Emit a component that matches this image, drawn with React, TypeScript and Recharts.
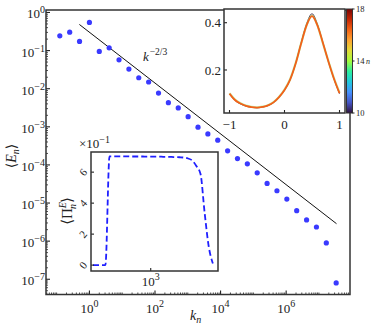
import React from 'react';
import { ScatterChart, Scatter, LineChart, Line, XAxis, YAxis, ReferenceDot } from 'recharts';

const FONT = '"Liberation Serif", "DejaVu Serif", serif';
const INK = '#222';
const BLUE = '#3a3aff';

// shell wavenumbers k_n = 2^n, n = -3..25
const shellK = [
  0.125, 0.25, 0.5, 1, 2, 4, 8, 16, 32, 64, 128, 256, 512, 1024, 2048, 4096, 8192,
  16384, 32768, 65536, 131072, 262144, 524288, 1048576, 2097152, 4194304, 8388608,
  16777216, 33554432,
];
const shellEnergy = [
  0.244, 0.305, 0.174, 0.547, 0.0953, 0.118, 0.0574, 0.0328, 0.0194, 0.015, 0.0077,
  0.0043, 0.00313, 0.00185, 0.00098, 0.00065, 0.000446, 0.000234, 0.000147, 0.000107,
  6.2e-5, 3.26e-5, 2.1e-5, 1.27e-5, 6.3e-6, 3.6e-6, 2.35e-6, 9.0e-7, 8.0e-8,
];

// k^(-2/3) guide
const slopeK = [0.494, 3.43e7];
const slopeE = [0.485, 2.87e-6];

// energy flux inset (in units of 1e-1)
const fluxK = [0.0625, ...shellK];
const fluxValues = [
  0, 0, 0, 0, 7.02, 7.02, 7.02, 7.02, 7.02, 7.01, 7.01, 7.01, 7.01, 7.0, 7.0, 7.0, 7.0,
  6.99, 6.99, 6.98, 6.97, 6.96, 6.94, 6.88, 6.75, 6.4, 5.9, 3.4, 1.2, 0.1,
];

// pdf inset, curves for several n
const pdfX = [-1, -0.9, -0.8, -0.7, -0.6, -0.5, -0.4, -0.3, -0.2, -0.1, 0, 0.1, 0.2, 0.3, 0.4, 0.5, 0.6, 0.7, 0.8, 0.9, 1];
const pdfN10 = [0.098, 0.071, 0.056, 0.047, 0.042, 0.04, 0.043, 0.049, 0.062, 0.084, 0.114, 0.158, 0.226, 0.313, 0.394, 0.438, 0.392, 0.314, 0.234, 0.161, 0.1];
const pdfN14 = [0.102, 0.075, 0.059, 0.049, 0.044, 0.042, 0.045, 0.051, 0.064, 0.086, 0.117, 0.16, 0.227, 0.311, 0.389, 0.43, 0.389, 0.312, 0.236, 0.164, 0.104];
const pdfN17 = [0.1, 0.073, 0.058, 0.048, 0.043, 0.041, 0.044, 0.05, 0.063, 0.085, 0.115, 0.158, 0.225, 0.31, 0.388, 0.428, 0.388, 0.313, 0.235, 0.163, 0.102];

const cbarTicks = [10, 14, 18];
const xLabelExps = [0, 2, 4, 6];
const yLabelExps = [-7, -6, -5, -4, -3, -2, -1, 0];
const pdfXTicks = [-1, 0, 1];
const pdfYTicks = [0.2, 0.4];
const fluxXTicks = [1000];
const fluxYTicks = [0, 2, 4, 6];

const X_DOMAIN = [10 ** -1.324, 10 ** 7.947];
const Y_DOMAIN = [10 ** -7.4, 10 ** 0.065];

const energyData = shellK.map((k, i) => ({ k, E: shellEnergy[i] }));
const slopeData = slopeK.map((k, i) => ({ k, E: slopeE[i] }));
const fluxData = fluxK.map((k, i) => ({ k, flux: fluxValues[i] }));
const pdfData = pdfX.map((x, i) => ({ x, n10: pdfN10[i], n14: pdfN14[i], n17: pdfN17[i] }));

// all 1..9 x 10^e values between two exponents
const logTicks = (lo: number, hi: number) => {
  const out: number[] = [];
  for (let e = Math.floor(lo); e <= Math.ceil(hi); e++) {
    for (let m = 1; m < 10; m++) {
      const lg = Math.log10(m) + e;
      if (lg >= lo && lg <= hi) out.push(m * 10 ** e);
    }
  }
  return out;
};
const mainXTicks = logTicks(-1.324, 7.947);
const mainYTicks = logTicks(-7.4, 0.065);

const expText = (e: number) => (e < 0 ? `\u2212${-e}` : `${e}`);

const MainXTick = ({ x, y, payload }: any) => {
  const lg = Math.log10(payload.value);
  const e = Math.round(lg);
  const major = Math.abs(lg - e) < 1e-6 && xLabelExps.includes(e);
  return (
    <g>
      <line x1={x} x2={x} y1={y} y2={y - (major ? 4 : 2)} stroke={INK} strokeWidth={major ? 1.1 : 0.8} />
      {major && (
        <text x={x} y={y + 18} textAnchor="middle" fontFamily={FONT} fontSize={13} fill={INK}>
          10<tspan dy={-6} fontSize={10}>{expText(e)}</tspan>
        </text>
      )}
    </g>
  );
};

const MainYTick = ({ x, y, payload }: any) => {
  const lg = Math.log10(payload.value);
  const e = Math.round(lg);
  const major = Math.abs(lg - e) < 1e-6 && yLabelExps.includes(e);
  return (
    <g>
      <line x1={x} x2={x + (major ? 4 : 2)} y1={y} y2={y} stroke={INK} strokeWidth={major ? 1.1 : 0.8} />
      {major && (
        <text x={x - 1} y={y + 6} textAnchor="end" fontFamily={FONT} fontSize={13} fill={INK}>
          10<tspan dy={-5} fontSize={10}>{expText(e)}</tspan>
        </text>
      )}
    </g>
  );
};

const PdfXTick = ({ x, y, payload }: any) => (
  <g>
    <line x1={x} x2={x} y1={y} y2={y - 3} stroke={INK} strokeWidth={1.1} />
    <text x={x} y={y + 16} textAnchor="middle" fontFamily={FONT} fontSize={13} fill={INK}>
      {payload.value < 0 ? `\u2212${-payload.value}` : payload.value}
    </text>
  </g>
);

const PdfYTick = ({ x, y, payload }: any) => (
  <g>
    <line x1={x} x2={x + 3} y1={y} y2={y} stroke={INK} strokeWidth={1.1} />
    <text x={x - 3} y={y + 4.6} textAnchor="end" fontFamily={FONT} fontSize={13} fill={INK}>
      {payload.value.toFixed(1)}
    </text>
  </g>
);

const FluxXTick = ({ x, y, payload }: any) => (
  <g>
    <line x1={x} x2={x} y1={y} y2={y - 3} stroke={INK} strokeWidth={1.1} />
    <text x={x} y={y + 14.7} textAnchor="middle" fontFamily={FONT} fontSize={13} fill={INK}>
      10<tspan dy={-5.5} fontSize={10}>{Math.round(Math.log10(payload.value))}</tspan>
    </text>
  </g>
);

const FluxYTick = ({ x, y, payload }: any) => (
  <g>
    <line x1={x} x2={x + 3} y1={y} y2={y} stroke={INK} strokeWidth={1.1} />
    <text
      transform={`translate(${x - 8},${y}) rotate(-50)`}
      textAnchor="middle"
      dominantBaseline="central"
      fontFamily={FONT}
      fontSize={11}
      fill={INK}
    >
      {payload.value}
    </text>
  </g>
);

const EnergyDot = (p: any) => <circle cx={p.cx} cy={p.cy} r={2.6} fill={BLUE} />;

const SlopeLabel = (p: any) => (
  <text x={p.cx} y={p.cy} fontFamily={FONT} fontSize={13} fill={INK}>
    <tspan fontStyle="italic">k</tspan>
    <tspan dy={-6} dx={1} fontSize={9.5}>{'\u22122/3'}</tspan>
  </text>
);

const Frame = ({ x, y, w, h }: { x: number; y: number; w: number; h: number }) => (
  <svg width={377} height={330} style={{ position: 'absolute', left: 0, top: 0, pointerEvents: 'none' }}>
    <rect x={x} y={y} width={w} height={h} fill="none" stroke="#333" strokeWidth={1.5} />
  </svg>
);

const Bg = ({ x, y, w, h }: { x: number; y: number; w: number; h: number }) => (
  <div style={{ position: 'absolute', left: x, top: y, width: w, height: h, background: '#fff' }} />
);

const TURBO = ['#30123b', '#4454c4', '#4490fe', '#1fc9dd', '#2bef9f', '#a4fc3c', '#e2dc38', '#fea331', '#f36315', '#c52603', '#7a0403'];

export default function App() {
  return (
    <div style={{ position: 'absolute', left: 0, top: 0, width: 377, height: 330, background: '#fff' }}>
      <div style={{ position: 'absolute', left: 0, top: 0 }}>
        <ScatterChart width={377} height={330} margin={{ top: 10, right: 27, bottom: 0, left: 0 }}>
          <XAxis
            type="number"
            dataKey="k"
            scale="log"
            domain={X_DOMAIN}
            allowDataOverflow
            ticks={mainXTicks}
            interval={0}
            tick={MainXTick}
            tickLine={false}
            axisLine={false}
            tickSize={0}
            tickMargin={0}
            height={35.5}
          />
          <YAxis
            type="number"
            dataKey="E"
            scale="log"
            domain={Y_DOMAIN}
            allowDataOverflow
            ticks={mainYTicks}
            interval={0}
            tick={MainYTick}
            tickLine={false}
            axisLine={false}
            tickSize={0}
            tickMargin={0}
            width={46}
          />
          <Scatter data={slopeData} line={{ stroke: '#111', strokeWidth: 1 }} shape={() => <g />} isAnimationActive={false} />
          <Scatter data={energyData} fill={BLUE} shape={EnergyDot} isAnimationActive={false} />
          <ReferenceDot x={42.8} y={0.0543} r={0} shape={SlopeLabel} />
        </ScatterChart>
      </div>
      <Frame x={46} y={10} w={304} h={284.5} />
      <svg width={377} height={330} style={{ position: 'absolute', left: 0, top: 0, pointerEvents: 'none' }}>
        <text transform="translate(16,156) rotate(-90)" textAnchor="middle" fontFamily={FONT} fontSize={14} fill={INK}>
          {'\u27e8'}
          <tspan fontStyle="italic">E</tspan>
          <tspan dy={3} fontSize={10} fontStyle="italic">n</tspan>
          <tspan dy={-3}>{'\u27e9'}</tspan>
        </text>
        <text x={190} y={319.5} fontFamily={FONT} fontSize={14} fill={INK}>
          <tspan fontStyle="italic">k</tspan>
          <tspan dy={3} fontSize={10} fontStyle="italic">n</tspan>
        </text>
      </svg>

      {/* flux inset */}
      <Bg x={91} y={152} w={127} h={119} />
      <div style={{ position: 'absolute', left: 55, top: 135 }}>
        <LineChart width={170} height={160} data={fluxData} margin={{ top: 17, right: 7, bottom: 0, left: 0 }}>
          <XAxis
            type="number"
            dataKey="k"
            scale="log"
            domain={[10 ** -1.35, 10 ** 7.9]}
            allowDataOverflow
            ticks={fluxXTicks}
            interval={0}
            tick={FluxXTick}
            tickLine={false}
            axisLine={false}
            tickSize={0}
            tickMargin={0}
            height={24}
          />
          <YAxis
            type="number"
            domain={[-0.38, 7.3]}
            allowDataOverflow
            ticks={fluxYTicks}
            interval={0}
            tick={FluxYTick}
            tickLine={false}
            axisLine={false}
            tickSize={0}
            tickMargin={0}
            width={36}
          />
          <Line
            type="monotone"
            dataKey="flux"
            stroke="#1f1fff"
            strokeWidth={1.8}
            strokeDasharray="6 3"
            dot={false}
            isAnimationActive={false}
          />
        </LineChart>
      </div>
      <Frame x={91} y={152} w={127} h={119} />
      <svg width={377} height={330} style={{ position: 'absolute', left: 0, top: 0, pointerEvents: 'none' }}>
        <text x={110} y={148} textAnchor="end" fontFamily={FONT} fontSize={13} fill={INK}>
          {'\u00d710'}
          <tspan dy={-5} fontSize={10}>{'\u22121'}</tspan>
        </text>
        <text transform="translate(72,211) rotate(-90)" textAnchor="middle" fontFamily={FONT} fontSize={15} fill={INK}>
          {'\u27e8\u03a0'}
          <tspan dy={-6} fontSize={10} fontStyle="italic">E</tspan>
          <tspan dx={-7} dy={10} fontSize={10} fontStyle="italic">n</tspan>
          <tspan dx={1} dy={-4}>{'\u27e9'}</tspan>
        </text>
      </svg>

      {/* pdf inset */}
      <Bg x={224} y={9} w={121} h={104} />
      <div style={{ position: 'absolute', left: 195, top: 0 }}>
        <LineChart width={152} height={135} data={pdfData} margin={{ top: 9, right: 2, bottom: 0, left: 0 }}>
          <XAxis
            type="number"
            dataKey="x"
            domain={[-1.1, 1.1]}
            allowDataOverflow
            ticks={pdfXTicks}
            interval={0}
            tick={PdfXTick}
            tickLine={false}
            axisLine={false}
            tickSize={0}
            tickMargin={0}
            height={22}
          />
          <YAxis
            type="number"
            domain={[0.018, 0.458]}
            allowDataOverflow
            ticks={pdfYTicks}
            interval={0}
            tick={PdfYTick}
            tickLine={false}
            axisLine={false}
            tickSize={0}
            tickMargin={0}
            width={29}
          />
          <Line type="monotone" dataKey="n10" stroke="#30123b" strokeWidth={0.9} dot={false} isAnimationActive={false} />
          <Line type="monotone" dataKey="n14" stroke="#9af07a" strokeWidth={2.3} strokeOpacity={0.6} dot={false} isAnimationActive={false} />
          <Line type="monotone" dataKey="n17" stroke="#f4601a" strokeWidth={1.8} dot={false} isAnimationActive={false} />
        </LineChart>
      </div>
      <Frame x={224} y={9} w={121} h={104} />

      {/* colour bar for n */}
      <svg width={377} height={330} style={{ position: 'absolute', left: 0, top: 0, pointerEvents: 'none' }}>
        <defs>
          <linearGradient id="turbo" x1="0" y1="1" x2="0" y2="0">
            {TURBO.map((c, i) => (
              <stop key={c} offset={i / (TURBO.length - 1)} stopColor={c} />
            ))}
          </linearGradient>
        </defs>
        <rect x={346.5} y={9} width={6} height={104} fill="url(#turbo)" stroke="#333" strokeWidth={1} />
        {cbarTicks.map((t) => {
          const ty = 113 - ((t - 10) / 8) * 104;
          return (
            <g key={t}>
              <line x1={352.5} x2={354.5} y1={ty} y2={ty} stroke={INK} strokeWidth={1} />
              <text x={356} y={ty + 3} fontFamily={FONT} fontSize={8.5} fill={INK}>
                {t}
              </text>
            </g>
          );
        })}
        <text x={366} y={64} fontFamily={FONT} fontSize={8} fontStyle="italic" fill={INK}>
          n
        </text>
      </svg>
    </div>
  );
}
